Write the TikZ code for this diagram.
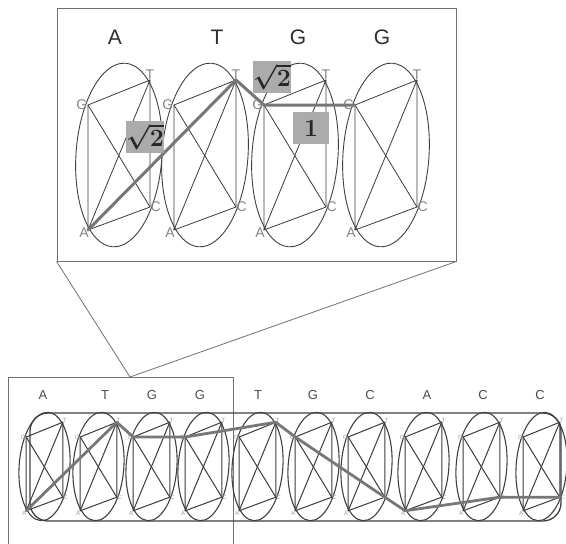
\documentclass[tikz,border=0pt]{standalone}
\usepackage[no-math]{fontspec}
\usepackage{bm}
\setmainfont{Liberation Sans}
\definecolor{ecol}{HTML}{404040}
\definecolor{lcol}{HTML}{3C3C3C}
\definecolor{pcol}{HTML}{777777}
\definecolor{bcol}{HTML}{707070}
\definecolor{vcol}{HTML}{ABABAB}
\definecolor{lbcol}{HTML}{858585}
\definecolor{txcol}{HTML}{2E2E2E}
\newcommand\dnacol[6]{%
\begin{scope}[shift={(#2,#3)},scale=#4,#6]
\draw[ellline,rotate=-4] (0,0) ellipse [x radius=43, y radius=92];
\coordinate (#1G) at (-31,-50);
\coordinate (#1T) at (31,-75);
\coordinate (#1C) at (31,52);
\coordinate (#1A) at (-31,75);
\draw[thinline] (#1G) -- (#1T) -- (#1C) -- (#1A) -- cycle;
\draw[thinline] (#1G) -- (#1C);
\draw[thinline] (#1T) -- (#1A);
\node[#5G] (#1g) at (#1G) {G};
\node[#5T] (#1t) at (#1T) {T};
\node[#5C] (#1c) at (#1C) {C};
\node[#5A] (#1a) at (#1A) {A};
\end{scope}}
\begin{document}
\begin{tikzpicture}[x=1pt,y=-1pt,
  ellline/.style={draw=ecol, line width=0.9pt},
  thinline/.style={draw=lcol, line width=0.8pt},
  botcol/.style={ellline/.append style={line width=1.1pt}, thinline/.append style={line width=1pt}},
  topcol/.style={},
  pathline/.style={draw=pcol, line width=3pt, line join=round, line cap=round},
  zbox/.style={draw=bcol, line width=0.9pt},
  zline/.style={draw=bcol, line width=0.8pt},
  valbox/.style={fill=vcol, minimum width=36pt, minimum height=32pt, inner sep=0pt, text=black!85, font=\fontsize{23}{23}\selectfont},
  bigletter/.style={font=\fontsize{21}{21}\selectfont, text=txcol},
  smallletter/.style={font=\fontsize{13}{13}\selectfont, text=txcol!85},
  toplab/.style={font=\fontsize{14}{14}\selectfont, text=lbcol},
  topG/.style={toplab, anchor=east, inner sep=0.5pt},
  topT/.style={toplab, anchor=south, inner sep=0pt},
  topC/.style={toplab, anchor=west, inner sep=0.5pt},
  topA/.style={toplab, anchor=center, xshift=-4pt, yshift=-3pt},
  botlab/.style={font=\fontsize{6}{6}\selectfont, text=lbcol!80},
  botG/.style={botlab, anchor=east, inner sep=0.5pt},
  botT/.style={botlab, anchor=south west, inner sep=0pt},
  botC/.style={botlab, anchor=west, inner sep=0.5pt},
  botA/.style={botlab, anchor=north east, inner sep=0pt}]
\useasboundingbox[fill=white] (0,0) rectangle (566,544);

% top zoomed box
\node[zbox, minimum width=399pt, minimum height=253pt, inner sep=0pt] (topbox) at (256.5,134.5) {};
% bottom small frame
\node[zbox, minimum width=225pt, minimum height=180pt, inner sep=0pt] (smallbox) at (120.5,467) {};
\coordinate (apex) at (130,377);
\draw[zline] (topbox.south west) -- (apex);
\draw[zline] (topbox.south east) -- (apex);

% top sequence letters
\node[bigletter] (tl1) at (115,37) {A};
\node[bigletter] (tl2) at (217,37) {T};
\node[bigletter] (tl3) at (298,37) {G};
\node[bigletter] (tl4) at (382,37) {G};

% top columns
\dnacol{t1}{119}{155}{1}{top}{topcol}
\dnacol{t2}{205}{155}{1}{top}{topcol}
\dnacol{t3}{295}{155}{1}{top}{topcol}
\dnacol{t4}{386}{155}{1}{top}{topcol}

\draw[pathline] (t1A) -- (t2T) -- (t3G) -- (t4G);

\node[valbox] (v1) at (145,137) {$\bm{\sqrt{2}}$};
\node[valbox] (v2) at (272,77) {$\bm{\sqrt{2}}$};
\node[valbox] (v3) at (311,128) {$\mathbf{1}$};

% bottom strip
\node[draw=ecol, line width=1.3pt, rounded corners=18pt, minimum width=531pt, minimum height=108pt, inner sep=0pt] (strip) at (295.5,467) {};

% bottom sequence letters
\node[smallletter] (bl1) at (43,395) {A};
\node[smallletter] (bl2) at (105,395) {T};
\node[smallletter] (bl3) at (152,395) {G};
\node[smallletter] (bl4) at (200,395) {G};
\node[smallletter] (bl5) at (258,395) {T};
\node[smallletter] (bl6) at (313,395) {G};
\node[smallletter] (bl7) at (370,395) {C};
\node[smallletter] (bl8) at (427,395) {A};
\node[smallletter] (bl9) at (483,395) {C};
\node[smallletter] (bl10) at (540,395) {C};

% bottom columns
\dnacol{b1}{44.5}{466.5}{0.59}{bot}{botcol}
\dnacol{b2}{98.5}{466.5}{0.59}{bot}{botcol}
\dnacol{b3}{151.5}{466.5}{0.59}{bot}{botcol}
\dnacol{b4}{203.5}{466.5}{0.59}{bot}{botcol}
\dnacol{b5}{257.5}{466.5}{0.59}{bot}{botcol}
\dnacol{b6}{313.5}{466.5}{0.59}{bot}{botcol}
\dnacol{b7}{366.5}{466.5}{0.59}{bot}{botcol}
\dnacol{b8}{423.5}{466.5}{0.59}{bot}{botcol}
\dnacol{b9}{481.5}{466.5}{0.59}{bot}{botcol}
\dnacol{b10}{541.5}{466.5}{0.59}{bot}{botcol}

\draw[pathline, line width=2.8pt] (b1A) -- (b2T) -- (b3G) -- (b4G) -- (b5T) -- (b6G) -- (b7C) -- (b8A) -- (b9C) -- (b10C);
\end{tikzpicture}
\end{document}
